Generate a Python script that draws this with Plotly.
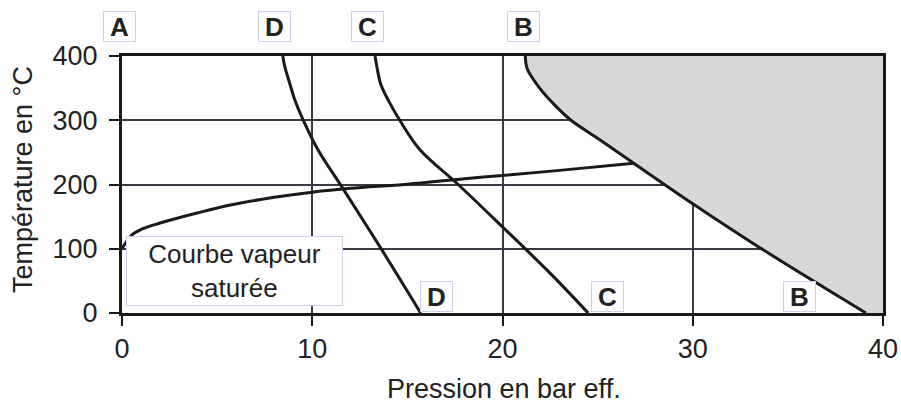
import plotly.graph_objects as go

# Saturated steam curve (pressure bar g, temperature °C)
sat_p = [0.0, 0.5, 1, 2, 4, 5.7, 8, 10, 12, 15, 18, 20, 23, 26.9]
sat_t = [100, 121, 130, 140, 156, 168, 180, 188, 194, 200.5, 209, 214, 222, 233]

# Limit curve B
b_p = [21.2, 21.3, 21.9, 22.8, 23.6, 25.1, 26.9, 30.0, 33.4, 39.1]
b_t = [400, 380, 352, 322, 300, 270, 233, 170, 104, 0]

# Curve C
c_p = [13.3, 13.4, 13.6, 14.0, 14.6, 15.66, 17.67, 20.0, 22.5, 24.5]
c_t = [400, 383, 356, 331, 300, 254, 200, 134, 62, 0]

# Curve D
d_p = [8.45, 8.56, 8.83, 9.09, 9.53, 10.3, 11.54, 13.6, 15.7]
d_t = [400, 383, 356, 331, 300, 254, 197, 101, 0]

x_ticks = [0, 10, 20, 30, 40]
y_ticks = [0, 100, 200, 300, 400]

FONT = "Liberation Sans, Arial, sans-serif"
TXT = "#222222"
LINE = "#1a1a1a"

W, H = 901, 403
L, R, T, B = 122, 18, 56, 90
PW, PH = W - L - R, H - T - B


def px_x(px):
    return (px - L) / PW


def px_y(py):
    return (H - B - py) / PH


fig = go.Figure()

# shaded region right of curve B
fig.add_trace(go.Scatter(
    x=b_p + [40, 40], y=b_t + [0, 400], fill="toself", mode="none",
    fillcolor="#d9d8d6", hoverinfo="skip", showlegend=False))

for xs, ys in [(sat_p, sat_t), (b_p, b_t), (c_p, c_t), (d_p, d_t)]:
    fig.add_trace(go.Scatter(x=xs, y=ys, mode="lines",
                             line=dict(color=LINE, width=3, shape="spline", smoothing=1.0),
                             hoverinfo="skip", showlegend=False))

box = dict(bgcolor="white", bordercolor="#cdd2ea", borderwidth=1,
           font=dict(family=FONT, size=26, color=TXT), showarrow=False,
           xref="paper", yref="paper", xanchor="center", yanchor="middle")

# top labels (pixel centres)
for lbl, cx in [("<b>A</b>", 119.5), ("<b>D</b>", 274), ("<b>C</b>", 367), ("<b>B</b>", 523.5)]:
    fig.add_annotation(text=lbl, x=px_x(cx), y=px_y(27), width=29, height=27, **box)
# bottom labels
for lbl, cx in [("<b>D</b>", 436.7), ("<b>C</b>", 607.5), ("<b>B</b>", 799)]:
    fig.add_annotation(text=lbl, x=px_x(cx), y=px_y(296.7), width=29, height=27, **box)

fig.add_annotation(text="Courbe vapeur<br>saturée", x=px_x(234.7), y=px_y(270.5),
                   width=213, height=66, **box)

# axis titles
fig.add_annotation(text="Pression en bar eff.", xref="paper", yref="paper",
                   x=px_x(504), y=px_y(389), showarrow=False,
                   font=dict(family=FONT, size=27, color=TXT), xanchor="center", yanchor="middle")
fig.add_annotation(text="Température en °C", xref="paper", yref="paper",
                   x=px_x(23), y=px_y(180), showarrow=False, textangle=-90,
                   font=dict(family=FONT, size=27, color=TXT), xanchor="center", yanchor="middle")

axis_common = dict(showline=True, linecolor=LINE, linewidth=3, mirror=True,
                   showgrid=True, gridcolor="#3a3a44", gridwidth=1.5,
                   ticks="outside", ticklen=10, tickwidth=1.5, tickcolor=LINE,
                   tickfont=dict(family=FONT, size=27, color=TXT), zeroline=False,
                   automargin=False)

fig.update_xaxes(range=[0, 40], tickvals=x_ticks, **axis_common)
fig.update_yaxes(range=[0, 400], tickvals=y_ticks, ticklabelstandoff=6, **axis_common)

fig.update_layout(width=W, height=H, autosize=False, margin=dict(l=L, r=R, t=T, b=B),
                  plot_bgcolor="white", paper_bgcolor="white")

fig.write_html("out.html",
               config={"responsive": False, "displayModeBar": False},
               default_width=f"{W}px", default_height=f"{H}px",
               post_script="document.body.style.margin='0';document.body.style.overflow='hidden';")
